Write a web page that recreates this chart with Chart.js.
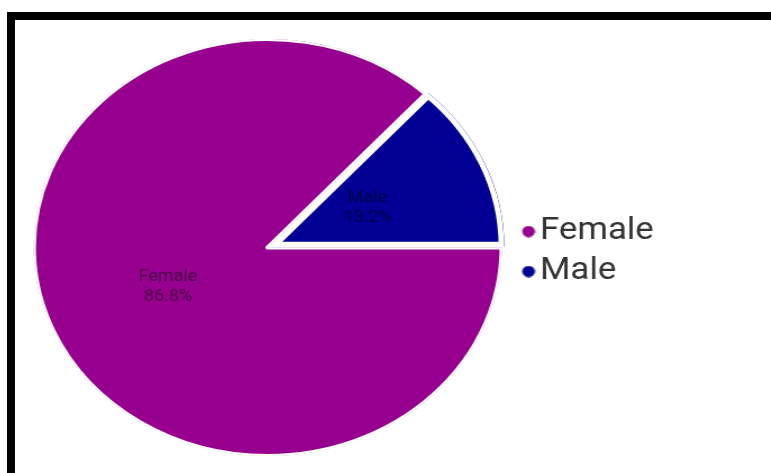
<!DOCTYPE html>
<html>
<head>
<meta charset="utf-8">
<script src="https://cdn.jsdelivr.net/npm/chart.js@4.4.1/dist/chart.umd.min.js"></script>
<style>
    html, body { margin: 0; padding: 0; background: #fff; overflow: hidden; }
    body { width: 771px; height: 473px; position: relative; }
    .frame {
        position: absolute; left: 7px; top: 12px; right: 0; bottom: -20px;
        border-left: 8px solid #000; border-top: 8px solid #000;
    }
    /* the source picture is stretched sideways, so the chart is too */
    .chart-box {
        position: absolute; left: 24px; top: 35px;
        width: 564px; height: 425px;
        transform: scaleX(1.123); transform-origin: 0 0;
    }
</style>
</head>
<body>
<div class="frame"></div>
<div class="chart-box"><canvas id="genderPie"></canvas></div>
<script>
    'use strict';

    var genderLabels = ['Female', 'Male'];
    var genderShares = [86.8, 13.2];
    var sliceColors = ['#97008f', '#020094'];

    var legendWidth = 130;
    var legendShiftY = 4;

    // legend dot, drawn a bit right of the box centre so it sits close to the text
    function makeDot(color) {
        var c = document.createElement('canvas');
        c.width = 24;
        c.height = 12;
        var g = c.getContext('2d');
        g.fillStyle = color;
        g.beginPath();
        g.arc(17.8, 6, 5.7, 0, Math.PI * 2);
        g.fill();
        return c;
    }

    // fixed legend width so the pie sits where it should
    var fixLegend = {
        id: 'fixLegend',
        afterInit: function(chart) {
            var legend = chart.legend;
            if (!legend) {
                return;
            }
            var fit = legend.fit;
            legend.fit = function() {
                fit.call(this);
                this.width = legendWidth;
            };
        },
        afterLayout: function(chart) {
            if (chart.legend) {
                chart.legend.top += legendShiftY;
                chart.legend.bottom += legendShiftY;
            }
        }
    };

    // name and percent inside each slice
    var sliceLabels = {
        id: 'sliceLabels',
        afterDatasetsDraw: function(chart) {
            var ctx = chart.ctx;
            var meta = chart.getDatasetMeta(0);
            ctx.save();
            ctx.font = '16px Roboto';
            ctx.fillStyle = 'rgba(0, 0, 0, 0.5)';
            ctx.textAlign = 'center';
            ctx.textBaseline = 'middle';
            meta.data.forEach(function(arc, i) {
                var p = arc.getProps(['x', 'y', 'startAngle', 'endAngle', 'outerRadius'], true);
                var mid = (p.startAngle + p.endAngle) / 2;
                var r = p.outerRadius * 0.465;
                var x = p.x + Math.cos(mid) * r;
                var y = p.y + Math.sin(mid) * r;
                ctx.fillText(genderLabels[i], x, y - 10);
                ctx.fillText(genderShares[i].toFixed(1) + '%', x, y + 10);
            });
            ctx.restore();
        }
    };

    new Chart(document.getElementById('genderPie'), {
        type: 'pie',
        data: {
            labels: genderLabels,
            datasets: [{
                data: genderShares,
                backgroundColor: sliceColors,
                borderColor: '#fff',
                borderWidth: [2, 5],
                borderAlign: 'inner',
                offset: [0, 7.5],
                hoverOffset: 0
            }]
        },
        options: {
            responsive: true,
            maintainAspectRatio: false,
            animation: false,
            rotation: 90,
            layout: { padding: 0 },
            plugins: {
                tooltip: { enabled: false },
                legend: {
                    position: 'right',
                    labels: {
                        usePointStyle: true,
                        boxWidth: 1,
                        boxHeight: 8,
                        padding: 9,
                        color: '#333',
                        font: { family: 'Roboto', size: 31 },
                        generateLabels: function(chart) {
                            return chart.data.labels.map(function(text, i) {
                                return {
                                    text: text,
                                    fillStyle: sliceColors[i],
                                    strokeStyle: sliceColors[i],
                                    lineWidth: 0,
                                    pointStyle: makeDot(sliceColors[i]),
                                    fontColor: '#333',
                                    hidden: false,
                                    index: i
                                };
                            });
                        }
                    }
                }
            }
        },
        plugins: [fixLegend, sliceLabels]
    });
</script>
</body>
</html>
